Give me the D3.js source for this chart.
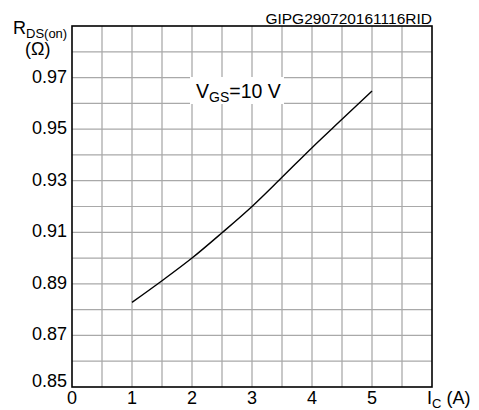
<!DOCTYPE html>
<html>
<head>
<meta charset="utf-8">
<script src="https://cdn.jsdelivr.net/npm/d3@7"></script>
<style>
  body { margin: 0; background: #fff; }
  text { font-family: "Liberation Sans", Arial, sans-serif; fill: #000; }
</style>
</head>
<body>
<svg></svg>
<script>
// curve: collector current vs on-resistance
var current = [1, 1.5, 2, 2.5, 3, 3.5, 4, 4.5, 5];
var resistance = [0.8828, 0.8912, 0.9000, 0.9098, 0.9200, 0.9313, 0.9428, 0.9538, 0.9648];

var xTicks = [0, 1, 2, 3, 4, 5];
var xGrid = [0.5, 1, 1.5, 2, 2.5, 3, 3.5, 4, 4.5, 5, 5.5];
var yTicks = [0.85, 0.87, 0.89, 0.91, 0.93, 0.95, 0.97];
var yGrid = [0.86, 0.87, 0.88, 0.89, 0.90, 0.91, 0.92, 0.93, 0.94, 0.95, 0.96, 0.97, 0.98];

var svgWidth = 479, svgHeight = 410;
var plotLeft = 72, plotRight = 432, plotTop = 26, plotBottom = 387;

var svg = d3.select("svg")
    .attr("width", svgWidth)
    .attr("height", svgHeight);

var x = d3.scaleLinear().domain([0, 6]).range([plotLeft, plotRight]);
var y = d3.scaleLinear().domain([0.85, 0.99]).range([plotBottom, plotTop]);

// grid
svg.selectAll(".vgrid")
    .data(xGrid)
    .enter()
    .append("line")
    .attr("x1", function(d) { return x(d); })
    .attr("x2", function(d) { return x(d); })
    .attr("y1", plotTop)
    .attr("y2", plotBottom)
    .attr("stroke", "#c2c2c2")
    .attr("stroke-width", 1.8);

svg.selectAll(".hgrid")
    .data(yGrid)
    .enter()
    .append("line")
    .attr("x1", plotLeft)
    .attr("x2", plotRight)
    .attr("y1", function(d) { return y(d); })
    .attr("y2", function(d) { return y(d); })
    .attr("stroke", "#a9a9a9")
    .attr("stroke-width", 1.2);

// label box over the grid
var g = svg.append("g");
g.append("rect")
    .attr("x", 190)
    .attr("y", 77)
    .attr("width", 94)
    .attr("height", 27)
    .attr("fill", "#fff");
var vgs = g.append("text")
    .attr("x", 196)
    .attr("y", 98)
    .style("font-size", "19.5px");
vgs.append("tspan").text("V");
vgs.append("tspan").attr("dy", 4).style("font-size", "14px").text("GS");
vgs.append("tspan").attr("dy", -4).text("=10 V");

// frame
svg.append("rect")
    .attr("x", plotLeft)
    .attr("y", plotTop)
    .attr("width", plotRight - plotLeft)
    .attr("height", plotBottom - plotTop)
    .attr("fill", "none")
    .attr("stroke", "#000")
    .attr("stroke-width", 1.6);

// curve
var line = d3.line()
    .x(function(d, i) { return x(current[i]); })
    .y(function(d) { return y(d); })
    .curve(d3.curveMonotoneX);

svg.append("path")
    .datum(resistance)
    .attr("d", line)
    .attr("fill", "none")
    .attr("stroke", "#000")
    .attr("stroke-width", 1.4);

// tick labels
svg.selectAll(".ylab")
    .data(yTicks)
    .enter()
    .append("text")
    .attr("x", plotLeft - 5)
    .attr("y", function(d) { return y(d) + (d == 0.85 ? 0 : 5); })
    .attr("text-anchor", "end")
    .style("font-size", "18px")
    .text(function(d) { return d.toFixed(2); });

svg.selectAll(".xlab")
    .data(xTicks)
    .enter()
    .append("text")
    .attr("x", function(d) { return x(d); })
    .attr("y", 404)
    .attr("text-anchor", "middle")
    .style("font-size", "18px")
    .text(function(d) { return d; });

// axis titles
var yt = svg.append("text").attr("x", 13).attr("y", 34).style("font-size", "18px");
yt.append("tspan").text("R");
yt.append("tspan").attr("dy", 4).style("font-size", "13px").text("DS(on)");
svg.append("text")
    .attr("x", 25)
    .attr("y", 55)
    .style("font-size", "18px")
    .text("(\u03A9)");

var xt = svg.append("text").attr("x", 427).attr("y", 404).style("font-size", "18px");
xt.append("tspan").text("I");
xt.append("tspan").attr("dy", 4).style("font-size", "13px").text("C");
xt.append("tspan").attr("dy", -4).text(" (A)");

svg.append("text")
    .attr("x", plotRight)
    .attr("y", 24)
    .attr("text-anchor", "end")
    .style("font-size", "15.5px")
    .text("GIPG290720161116RID");
</script>
</body>
</html>
